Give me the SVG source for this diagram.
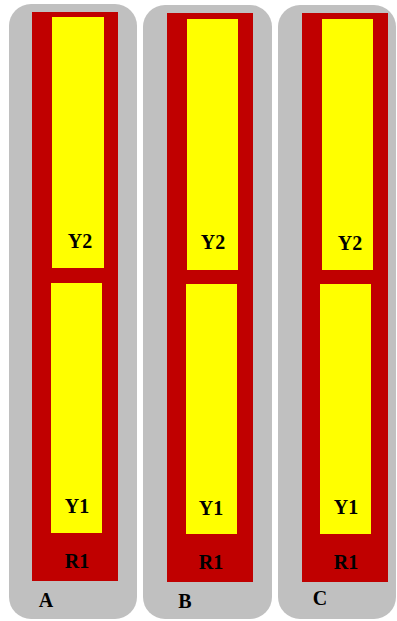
<svg xmlns="http://www.w3.org/2000/svg" width="397" height="621" viewBox="0 0 397 621">
<style>
.bg{fill:#c0c0c0}
.red{fill:#c00000}
.yel{fill:#ffff00}
text{font-family:"Liberation Serif","Times New Roman",serif;font-weight:bold;font-size:20px;fill:#000;text-anchor:middle}
</style>
<rect width="397" height="621" fill="#fff"/>
<g id="A">
<rect class="bg" x="9" y="4" width="128" height="615" rx="22"/>
<rect class="red" x="32" y="12" width="86" height="569"/>
<rect class="yel" x="52" y="17" width="52" height="251"/>
<rect class="yel" x="51" y="283" width="51" height="250"/>
<text x="80" y="248">Y2</text>
<text x="77" y="513">Y1</text>
<text x="77" y="568">R1</text>
<text x="46" y="607">A</text>
</g>
<g id="B">
<rect class="bg" x="143" y="5" width="129" height="614" rx="22"/>
<rect class="red" x="167" y="13" width="86" height="569"/>
<rect class="yel" x="187" y="19" width="51" height="251"/>
<rect class="yel" x="186" y="284" width="51" height="250"/>
<text x="213" y="249">Y2</text>
<text x="211" y="515">Y1</text>
<text x="211" y="569">R1</text>
<text x="185" y="608">B</text>
</g>
<g id="C">
<rect class="bg" x="278" y="5" width="118" height="614" rx="22"/>
<rect class="red" x="302" y="13" width="86" height="569"/>
<rect class="yel" x="322" y="19" width="51" height="251"/>
<rect class="yel" x="320" y="284" width="51" height="250"/>
<text x="350" y="250">Y2</text>
<text x="346" y="514">Y1</text>
<text x="346" y="569">R1</text>
<text x="320" y="605">C</text>
</g>
<g id="connectors"/>
</svg>
